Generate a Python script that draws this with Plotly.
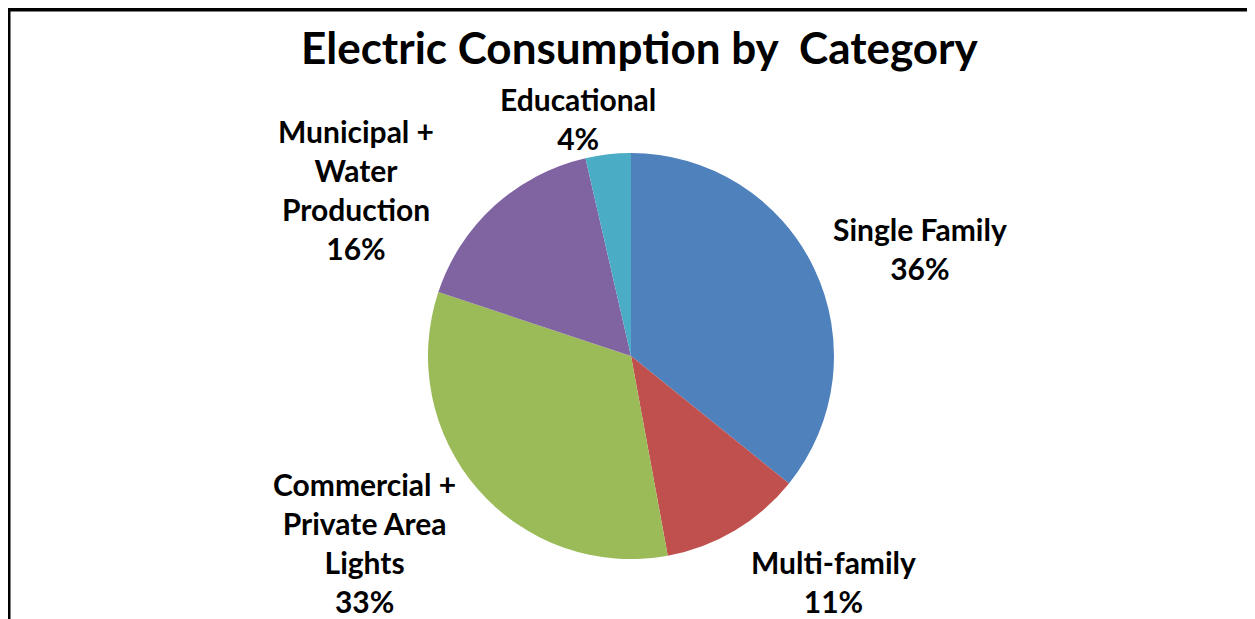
import plotly.graph_objects as go

categories = ["Single Family", "Multi-family", "Commercial + Private Area Lights",
              "Municipal + Water Production", "Educational"]
display_names = ["Single Family", "Multi-family", "Commercial +<br>Private Area<br>Lights",
                 "Municipal +<br>Water<br>Production", "Educational"]
values = [35.8, 11.3, 33.0, 16.3, 3.6]
colors = ["#4F81BD", "#C0504D", "#9BBB59", "#8064A2", "#4BACC6"]
title_text = "Electric Consumption by  Category"

W, H = 1255, 619
OFF = 8  # page body margin offset
cx, cy, r = 631 - OFF, 356 - OFF, 203

fig = go.Figure(go.Pie(
    labels=categories, values=values, sort=False, direction="clockwise", rotation=0,
    marker=dict(colors=colors, line=dict(width=0)), textinfo="none", showlegend=False,
    domain=dict(x=[(cx - r) / W, (cx + r) / W], y=[(H - cy - r) / H, (H - cy + r) / H]),
))

# label block centres (screen px) placed like the original outside labels
label_pos = [(920, 248), (833, 581.5), (364, 542.5), (356, 189), (578, 119)]
total = sum(values)
font_family = "Lato, 'Open Sans', sans-serif"
for name, v, (px, py) in zip(display_names, values, label_pos):
    fig.add_annotation(
        x=(px - OFF) / W, y=(H - (py - OFF)) / H, xref="paper", yref="paper",
        text=f"<b>{name}<br>{v / total * 100:.0f}%</b>", showarrow=False,
        xanchor="center", yanchor="middle", align="center",
        font=dict(size=30, color="black", family=font_family),
    )

fig.add_annotation(
    x=(639 - OFF) / W, y=(H - (47 - OFF)) / H, xref="paper", yref="paper",
    text=f"<b>{title_text}</b>", showarrow=False, xanchor="center", yanchor="middle",
    font=dict(size=44, color="black", family=font_family),
)

fig.add_shape(type="rect", xref="paper", yref="paper",
              x0=0.5 / W, x1=1251.5 / W, y0=-0.1, y1=(H - 1.5) / H,
              line=dict(color="black", width=4), fillcolor="rgba(0,0,0,0)")

fig.update_layout(width=W, height=H, margin=dict(l=0, r=0, t=0, b=0),
                  paper_bgcolor="white", plot_bgcolor="white")
fig.write_html("out.html")
